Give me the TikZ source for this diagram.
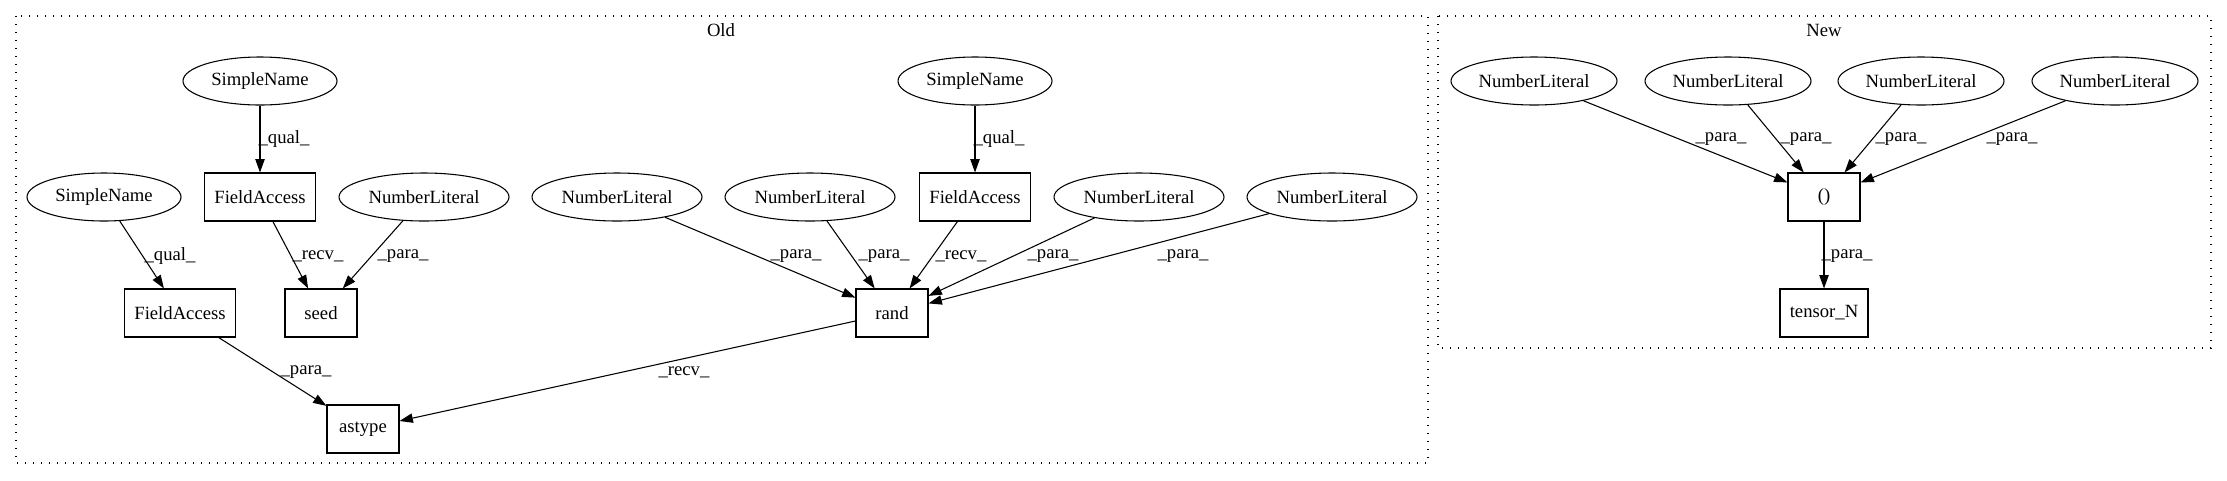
\documentclass[tikz,border=0pt]{standalone}
\usepackage{fontspec}
\setmainfont{Liberation Serif}
\usetikzlibrary{shapes.geometric,arrows.meta}
\tikzset{
  every node/.style={font=\fontsize{14}{16}\selectfont},
  ell/.style={draw, ellipse, line width=0.8pt, inner sep=0pt, minimum height=36pt},
  snw/.style={ell, minimum width=115.5pt},
  nlw/.style={ell, minimum width=127.5pt},
  box/.style={draw, rectangle, line width=0.8pt, inner sep=0pt, minimum height=36pt, minimum width=54pt},
  edge/.style={draw, line width=0.8pt, -{Triangle[length=10pt,width=7pt]}},
  lbl/.style={inner sep=0pt},
  cluster/.style={draw, line width=0.9pt, dash pattern=on 1pt off 5pt},
}
\begin{document}
\begin{tikzpicture}[x=0.75pt, y=-0.75pt]
\useasboundingbox (0,0) rectangle (2227,480);
% clusters
\draw[cluster] (16,16) rectangle (1428,463);
\draw[cluster] (1438,16) rectangle (2211,348);
\node[lbl] (oldlbl) at (721,30) {Old};
\node[lbl] (newlbl) at (1824,30) {New};
% Old nodes
\node[snw] (sn1) at (260,81) {SimpleName};
\node[box, minimum width=83.25pt] (fa1) at (260,197) {FieldAccess};
\node[nlw] (nlS) at (424,197) {NumberLiteral};
\node[nlw] (nlR1) at (617,197) {NumberLiteral};
\node[snw] (sn2) at (104,197) {SimpleName};
\node[box, minimum width=83.25pt] (fa2) at (180,313) {FieldAccess};
\node[box] (seed) at (321,313) {seed};
\node[box] (astype) at (363,429) {astype};
\node[snw] (sn3) at (975,81) {SimpleName};
\node[nlw] (nlR2) at (810,197) {NumberLiteral};
\node[box, minimum width=83.25pt] (fa3) at (975,197) {FieldAccess};
\node[nlw] (nlR3) at (1139,197) {NumberLiteral};
\node[nlw] (nlR4) at (1332,197) {NumberLiteral};
\node[box] (rand) at (892,313) {rand};
% New nodes
\node[ell, minimum width=124.5pt] (n1) at (1534,81) {NumberLiteral};
\node[ell, minimum width=124.5pt] (n2) at (1728,81) {NumberLiteral};
\node[ell, minimum width=124.5pt] (n3) at (1921,81) {NumberLiteral};
\node[ell, minimum width=124.5pt] (n4) at (2115,81) {NumberLiteral};
\node[box] (par) at (1824,197) {()};
\node[box, minimum width=66pt] (tens) at (1824,313) {tensor\_N};
% Old edges
\draw[edge] (sn1) -- (fa1);
\node[lbl] (l1) at (284,139) {\_qual\_};
\draw[edge] (sn2) -- (fa2);
\node[lbl] (l2) at (170,256) {\_qual\_};
\draw[edge] (fa1) -- (seed);
\node[lbl] (l3) at (318,256) {\_recv\_};
\draw[edge] (nlS) -- (seed);
\node[lbl] (l4) at (403,256) {\_para\_};
\draw[edge] (fa2) -- (astype);
\node[lbl] (l5) at (306,372) {\_para\_};
\draw[edge] (rand) -- (astype);
\node[lbl] (l6) at (684,372) {\_recv\_};
\draw[edge] (nlR1) -- (rand);
\node[lbl] (l7) at (796,256) {\_para\_};
\draw[edge] (nlR2) -- (rand);
\node[lbl] (l8) at (884,256) {\_para\_};
\draw[edge] (fa3) -- (rand);
\node[lbl] (l9) at (961,256) {\_recv\_};
\draw[edge] (sn3) -- (fa3);
\node[lbl] (l10) at (999,139) {\_qual\_};
\draw[edge] (nlR3) -- (rand);
\node[lbl] (l11) at (1053,256) {\_para\_};
\draw[edge] (nlR4) -- (rand);
\node[lbl] (l12) at (1183,256) {\_para\_};
% New edges
\draw[edge] (n1) -- (par);
\node[lbl] (m1) at (1721,139) {\_para\_};
\draw[edge] (n2) -- (par);
\node[lbl] (m2) at (1806,139) {\_para\_};
\draw[edge] (n3) -- (par);
\node[lbl] (m3) at (1901,139) {\_para\_};
\draw[edge] (n4) -- (par);
\node[lbl] (m4) at (2012,139) {\_para\_};
\draw[edge] (par) -- (tens);
\node[lbl] (m5) at (1847,256) {\_para\_};
\end{tikzpicture}
\end{document}
